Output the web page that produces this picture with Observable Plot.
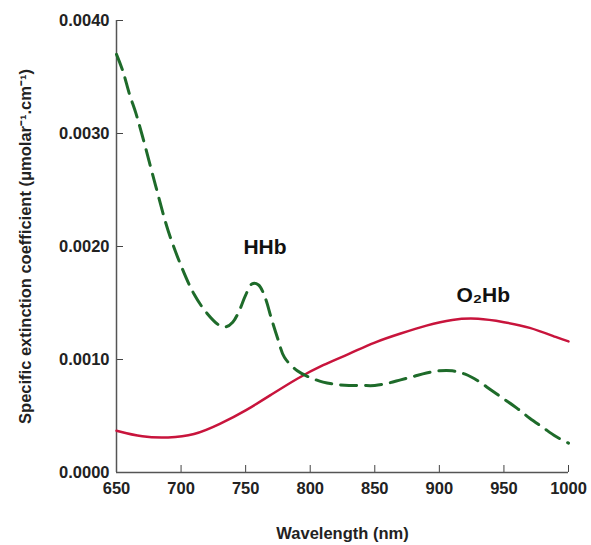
<!DOCTYPE html>
<html><head><meta charset="utf-8">
<script src="https://cdn.jsdelivr.net/npm/d3@7"></script>
<script src="https://cdn.jsdelivr.net/npm/@observablehq/plot@0.6"></script>
<style>body{margin:0;background:#fff}svg{font-family:"Liberation Sans",Arial,sans-serif}</style>
</head><body><div id="chart"></div>
<script>
const wavelengthsO2 = [650,670,690,710,730,750,770,790,810,830,850,870,890,910,930,950,970,990,1000];
const o2hb = [0.00037,0.00032,0.00031,0.00034,0.00043,0.00055,0.00069,0.00083,0.00095,0.00105,0.00115,0.00123,0.00130,0.00135,0.00136,0.00133,0.00128,0.00120,0.00116];
const wavelengthsH = [650,655,660,665,670,680,690,700,710,720,730,735,740,745,750,755,760,765,770,775,780,790,800,810,820,830,840,850,860,870,880,890,900,910,920,930,940,950,960,970,980,990,1000];
const hhb = [0.00370,0.00355,0.00335,0.00318,0.00298,0.00255,0.00214,0.00183,0.00158,0.00141,0.00130,0.00129,0.00133,0.00143,0.00157,0.00167,0.00166,0.00155,0.00136,0.00118,0.00102,0.00090,0.00084,0.00080,0.00078,0.00077,0.00077,0.00077,0.00079,0.00082,0.00085,0.00088,0.00090,0.00090,0.00087,0.00081,0.00073,0.00065,0.00057,0.00048,0.00040,0.00032,0.00026];
const xTicks = [650,700,750,800,850,900,950,1000];
const yTicks = [0,0.001,0.002,0.003,0.004];
const seriesLabels = [{name:"HHb", x:765, y:0.00199},{name:"O₂Hb", x:934, y:0.00157}];

const o2Data = wavelengthsO2.map((w,i)=>({w, v:o2hb[i]}));
const hData = wavelengthsH.map((w,i)=>({w, v:hhb[i]}));

const chart = Plot.plot({
  width: 591, height: 545,
  marginLeft: 116, marginRight: 23, marginTop: 20, marginBottom: 73,
  style: {fontFamily: "Liberation Sans, Arial, sans-serif", fontSize: "16px", fontWeight: "bold", color: "#222", background: "#fff"},
  x: {domain: [650,1000]},
  y: {domain: [0,0.004]},
  marks: [
    Plot.axisX({ticks: xTicks, tickFormat: d => String(d), tickSize: -7, tickPadding: 17, fontSize: 16.5, fontWeight: "bold", label: "Wavelength (nm)", labelAnchor: "center", labelArrow: "none", labelOffset: 66, stroke: "#444"}),
    Plot.axisY({ticks: yTicks, tickFormat: d => d.toFixed(4), tickSize: -7, tickPadding: 14, fontSize: 16.5, fontWeight: "bold", label: "Specific extinction coefficient (μmolar⁻¹.cm⁻¹)", labelAnchor: "center", labelArrow: "none", labelOffset: 97, stroke: "#444"}),
    Plot.ruleX([650], {stroke: "#555", strokeWidth: 1.5}),
    Plot.ruleY([0], {stroke: "#555", strokeWidth: 1.5}),
    Plot.line(o2Data, {x: "w", y: "v", stroke: "#c8143c", strokeWidth: 2.5, curve: "natural"}),
    Plot.line(hData, {x: "w", y: "v", stroke: "#1e6b2a", strokeWidth: 3, strokeDasharray: "16,9", curve: "catmull-rom"}),
    Plot.text(seriesLabels, {x: "x", y: "y", text: "name", fontSize: 21, fontWeight: "bold", fill: "#111"})
  ]
});
document.getElementById("chart").appendChild(chart);
</script></body></html>
